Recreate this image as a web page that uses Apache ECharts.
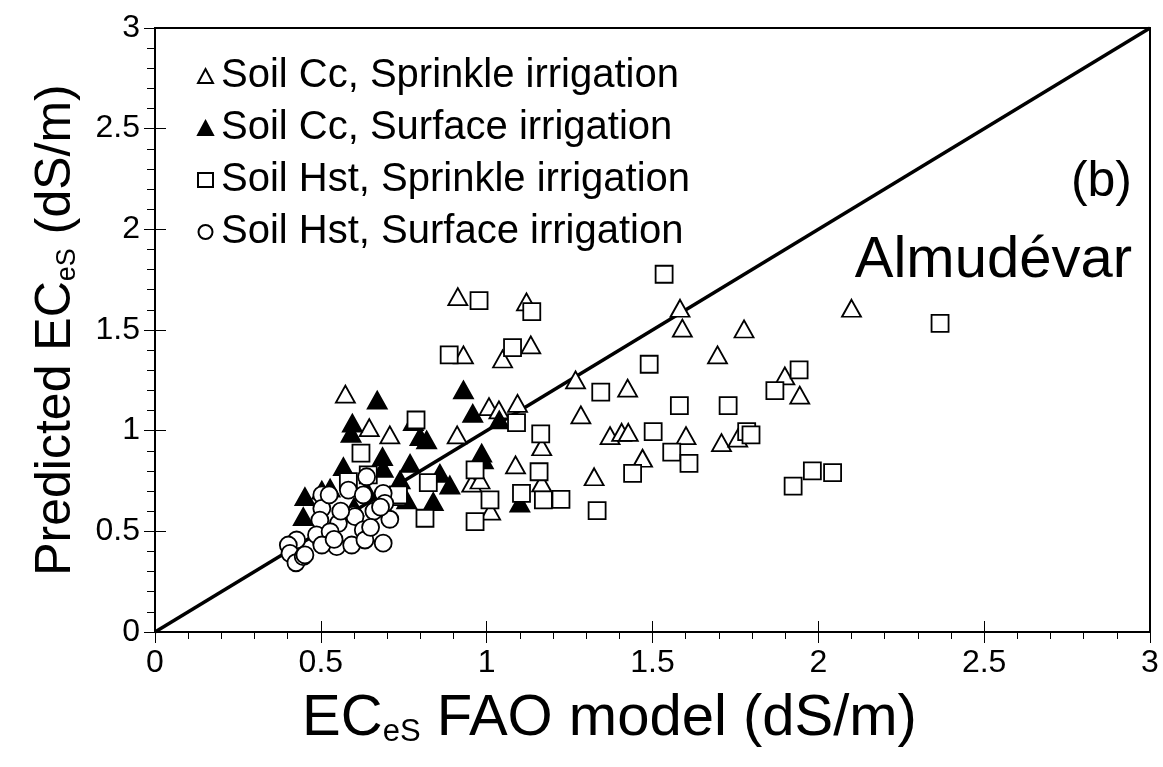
<!DOCTYPE html>
<html>
<head>
<meta charset="utf-8">
<title>ECeS Almudevar</title>
<script src="https://cdn.jsdelivr.net/npm/echarts@6/dist/echarts.min.js"></script>
<style>
  html, body { margin: 0; padding: 0; background: #fff; }
  #chart { width: 1163px; height: 767px; }
</style>
</head>
<body>
<div id="chart"></div>
<script>
// Soil Cc, sprinkle irrigation (open triangles) [FAO model, predicted]
const ccSprinkle = [
  [0.913, 1.666], [1.12, 1.64], [0.93, 1.376], [1.048, 1.356], [1.133, 1.426],
  [0.574, 1.181], [0.646, 1.015], [0.708, 0.979], [0.911, 0.979], [1.007, 1.119],
  [1.037, 1.103], [1.093, 1.136], [1.087, 0.83], [0.955, 0.739], [0.98, 0.755],
  [1.166, 0.92], [1.166, 0.74], [1.012, 0.6],
  [1.583, 1.608], [1.59, 1.509], [1.776, 1.505], [1.696, 1.376], [1.268, 1.252],
  [1.425, 1.211], [1.284, 1.078], [1.372, 0.975], [1.407, 0.992], [1.427, 0.992],
  [1.601, 0.975], [1.708, 0.941], [1.757, 0.963], [1.47, 0.863], [1.324, 0.771],
  [1.899, 1.272], [1.944, 1.177], [2.10, 1.608]
]
// Soil Cc, surface irrigation (filled triangles)
const ccSurface = [
  [0.67, 1.152], [0.595, 1.037], [0.591, 0.987], [0.93, 1.202], [0.958, 1.086],
  [1.038, 1.053], [0.779, 1.045], [0.799, 0.97], [0.819, 0.954], [0.985, 0.888],
  [0.99, 0.855], [0.686, 0.871], [0.568, 0.821], [0.688, 0.813], [0.769, 0.838],
  [0.739, 0.755], [0.859, 0.788], [0.889, 0.73], [0.759, 0.656], [0.839, 0.647],
  [0.452, 0.672], [0.503, 0.705], [0.447, 0.573], [1.1, 0.64], [0.528, 0.714],
  [0.6, 0.62], [0.64, 0.7]
]
// Soil Hst, sprinkle irrigation (open squares)
const hstSprinkle = [
  [0.977, 1.646], [1.136, 1.591], [0.887, 1.376], [1.078, 1.412], [0.787, 1.053],
  [0.621, 0.888], [1.09, 1.04], [1.163, 0.984], [0.965, 0.805], [1.158, 0.796],
  [0.824, 0.742], [1.01, 0.656], [1.105, 0.689], [1.171, 0.656], [0.814, 0.565],
  [0.965, 0.548], [0.729, 0.672], [0.643, 0.78], [0.583, 0.747], [0.734, 0.681],
  [1.535, 1.777], [1.49, 1.33], [1.344, 1.191], [1.581, 1.124], [1.728, 1.124],
  [1.502, 0.995], [1.784, 0.995], [1.797, 0.979], [1.558, 0.893], [1.61, 0.838],
  [1.44, 0.788], [1.333, 0.603], [1.224, 0.659], [1.942, 1.302], [1.869, 1.199],
  [1.982, 0.8], [2.043, 0.792], [1.924, 0.725], [2.367, 1.533]
]
// Soil Hst, surface irrigation (open circles)
const hstSurface = [
  [0.427, 0.457], [0.402, 0.432], [0.407, 0.391], [0.425, 0.344], [0.447, 0.374],
  [0.503, 0.681], [0.503, 0.614], [0.497, 0.556], [0.553, 0.54], [0.583, 0.705],
  [0.598, 0.581], [0.503, 0.441], [0.548, 0.424], [0.593, 0.432], [0.487, 0.482],
  [0.528, 0.498], [0.638, 0.771], [0.628, 0.681], [0.525, 0.681], [0.688, 0.689],
  [0.693, 0.639], [0.708, 0.56], [0.603, 0.573], [0.628, 0.507], [0.633, 0.457],
  [0.688, 0.441], [0.452, 0.383], [0.503, 0.432], [0.56, 0.6], [0.66, 0.6],
  [0.65, 0.52], [0.68, 0.62], [0.54, 0.46]
]
// 1:1 line
const oneToOne = [[0, 0], [3, 3]]

const seriesNames = [
  'Soil Cc, Sprinkle irrigation',
  'Soil Cc, Surface irrigation',
  'Soil Hst, Sprinkle irrigation',
  'Soil Hst, Surface irrigation'
]

const font = 'Liberation Sans, Arial, sans-serif'
const chart = echarts.init(document.getElementById('chart'))

function markerStyle (fill) {
  return { color: fill, borderColor: '#000', borderWidth: 1.8, opacity: 1 }
}

const option = {
  backgroundColor: '#fff',
  animation: false,
  textStyle: { fontFamily: font, color: '#000' },
  grid: {
    left: 155, right: 13, top: 28, bottom: 135,
    show: true, borderColor: '#000', borderWidth: 2, backgroundColor: 'transparent'
  },
  legend: {
    data: seriesNames,
    orient: 'vertical',
    left: 192,
    top: 51,
    itemWidth: 15,
    itemHeight: 14,
    itemGap: 12,
    textStyle: { fontSize: 40, fontFamily: font, color: '#000', lineHeight: 40, padding: [0, 0, 0, 3] }
  },
  xAxis: [{
    type: 'value',
    min: 0, max: 3, interval: 0.5,
    name: '{a|EC}{b|eS}{a| FAO model (dS/m)}',
    nameLocation: 'middle',
    nameGap: 56,
    nameTextStyle: {
      padding: [0, 86, 0, 0],
      rich: {
        a: { fontSize: 58, fontFamily: font, color: '#000', verticalAlign: 'bottom', lineHeight: 60 },
        b: { fontSize: 31, fontFamily: font, color: '#000', verticalAlign: 'bottom', lineHeight: 60 }
      }
    },
    axisLine: { show: true, onZero: false, lineStyle: { color: '#000', width: 2 } },
    axisTick: { show: true, inside: false, length: 11, lineStyle: { color: '#000', width: 1 } },
    minorTick: { show: true, splitNumber: 5, length: 7, lineStyle: { color: '#000', width: 1 } },
    splitLine: { show: false },
    axisLabel: { fontSize: 32, color: '#000', margin: 15, fontFamily: font }
  }, {
    type: 'value',
    min: 0, max: 3, interval: 0.5,
    position: 'bottom',
    axisLine: { show: false },
    axisTick: { show: true, inside: true, length: 11, lineStyle: { color: '#000', width: 1 } },
    axisLabel: { show: false },
    splitLine: { show: false }
  }],
  yAxis: [{
    type: 'value',
    min: 0, max: 3, interval: 0.5,
    name: '{a|Predicted EC}{b|eS}{a| (dS/m)}',
    nameLocation: 'middle',
    nameRotate: 90,
    nameGap: 74,
    nameTextStyle: {
      rich: {
        a: { fontSize: 50, fontFamily: font, color: '#000', verticalAlign: 'bottom', lineHeight: 56 },
        b: { fontSize: 27, fontFamily: font, color: '#000', verticalAlign: 'bottom', lineHeight: 56 }
      }
    },
    axisLine: { show: true, onZero: false, lineStyle: { color: '#000', width: 2 } },
    axisTick: { show: true, inside: false, length: 11, lineStyle: { color: '#000', width: 1 } },
    minorTick: { show: true, splitNumber: 5, length: 8, lineStyle: { color: '#000', width: 1 } },
    splitLine: { show: false },
    axisLabel: { fontSize: 32, color: '#000', margin: 15, fontFamily: font }
  }, {
    type: 'value',
    min: 0, max: 3, interval: 0.5,
    position: 'left',
    axisLine: { show: false },
    axisTick: { show: true, inside: true, length: 11, lineStyle: { color: '#000', width: 1 } },
    axisLabel: { show: false },
    splitLine: { show: false }
  }],
  graphic: [
    {
      type: 'text', right: 1163 - 1132, top: 157, silent: true,
      style: { text: '(b)', font: '50px ' + font, fill: '#000', textAlign: 'right' }
    },
    {
      type: 'text', right: 1163 - 1132, top: 232, silent: true,
      style: { text: 'Almudévar', font: '58px ' + font, fill: '#000', textAlign: 'right' }
    }
  ],
  series: [
    {
      name: '1:1',
      type: 'line',
      data: oneToOne,
      symbol: 'none',
      silent: true,
      z: 1,
      lineStyle: { color: '#000', width: 3.5 }
    },
    {
      name: seriesNames[0],
      type: 'scatter',
      symbol: 'triangle',
      symbolSize: [19, 17],
      z: 2,
      itemStyle: markerStyle('#fff'),
      data: ccSprinkle
    },
    {
      name: seriesNames[1],
      type: 'scatter',
      symbol: 'triangle',
      symbolSize: [19, 17],
      z: 3,
      itemStyle: markerStyle('#000'),
      data: ccSurface
    },
    {
      name: seriesNames[2],
      type: 'scatter',
      symbol: 'rect',
      symbolSize: 17,
      z: 4,
      itemStyle: markerStyle('#fff'),
      data: hstSprinkle
    },
    {
      name: seriesNames[3],
      type: 'scatter',
      symbol: 'circle',
      symbolSize: 17,
      z: 5,
      itemStyle: markerStyle('#fff'),
      data: hstSurface
    }
  ]
}

chart.setOption(option)
window.addEventListener('resize', () => chart.resize())
</script>
</body>
</html>
